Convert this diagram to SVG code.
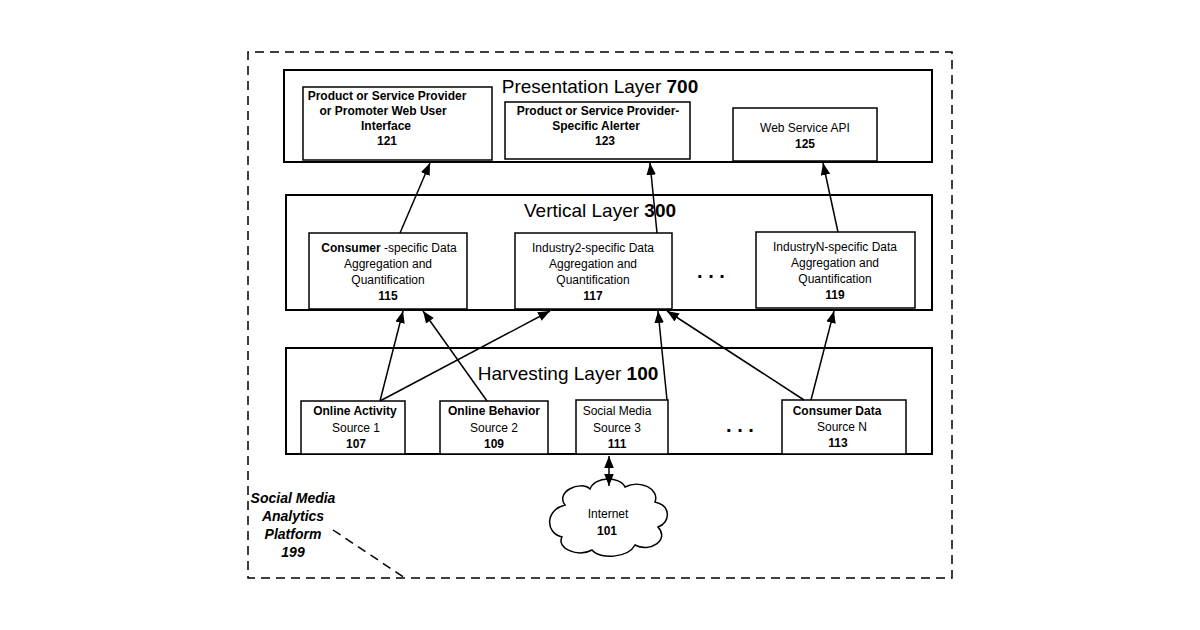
<svg xmlns="http://www.w3.org/2000/svg" width="1200" height="630" viewBox="0 0 1200 630">
<style>
text{font-family:"Liberation Sans",Arial,sans-serif;fill:#000;text-anchor:middle}
.box{fill:#fff;stroke:#000;stroke-width:1.5}
.lay{fill:#fff;stroke:#000;stroke-width:2}
.t{font-size:12px}
.b{font-weight:bold}
.h{font-size:19px}
.c{stroke:#000;stroke-width:1.5;fill:none;marker-end:url(#a)}
.d{stroke:#000;stroke-width:1.5;fill:none;stroke-dasharray:9,6}
</style>
<defs><marker id="a" viewBox="0 0 10 10" refX="10" refY="5" markerWidth="8" markerHeight="8" orient="auto-start-reverse"><path d="M0,1 L10,5 L0,9z" fill="#000"/></marker></defs>
<rect width="1200" height="630" fill="#fff"/>
<g id="platform">
<path class="d" d="M405,578 L248,578 L248,52 L952,52 L952,578 L405,578"/>
<path class="d" d="M333,530 L405,578"/>
<text x="293" y="503" font-size="14" font-weight="bold" font-style="italic">Social Media</text>
<text x="293" y="521" font-size="14" font-weight="bold" font-style="italic">Analytics</text>
<text x="293" y="539" font-size="14" font-weight="bold" font-style="italic">Platform</text>
<text x="293" y="557" font-size="14" font-weight="bold" font-style="italic">199</text>
</g>
<g id="presentation"><rect class="lay" x="284" y="70" width="648" height="92"/><text class="h" x="600" y="93">Presentation Layer <tspan class="b">700</tspan></text></g>
<g id="vertical"><rect class="lay" x="286" y="195" width="646" height="115"/><text class="h" x="600" y="217">Vertical Layer <tspan class="b">300</tspan></text></g>
<g id="harvesting"><rect class="lay" x="286" y="348" width="646" height="106"/><text class="h" x="568" y="380">Harvesting Layer <tspan class="b">100</tspan></text></g>
<g id="n121"><rect class="box" x="303" y="87" width="189" height="73"/><text class="t b" x="387" y="100">Product or Service Provider</text><text class="t b" x="383" y="115">or Promoter  Web User</text><text class="t b" x="386" y="130">Interface</text><text class="t b" x="387" y="145">121</text></g>
<g id="n123"><rect class="box" x="505" y="102" width="185" height="57"/><text class="t b" x="598" y="115">Product or Service Provider-</text><text class="t b" x="596" y="130">Specific  Alerter</text><text class="t b" x="605" y="145">123</text></g>
<g id="n125"><rect class="box" x="733" y="108" width="144" height="53"/><text class="t" x="805" y="132">Web Service API</text><text class="t b" x="805" y="148">125</text></g>
<g id="n115"><rect class="box" x="309" y="233" width="158" height="76"/><text class="t" x="389" y="252"><tspan class="b">Consumer</tspan>  -specific Data</text><text class="t" x="388" y="268">Aggregation and</text><text class="t" x="388" y="284">Quantification</text><text class="t b" x="388" y="300">115</text></g>
<g id="n117"><rect class="box" x="515" y="233" width="157" height="76"/><text class="t" x="593" y="252">Industry2-specific Data</text><text class="t" x="593" y="268">Aggregation and</text><text class="t" x="593" y="284">Quantification</text><text class="t b" x="593" y="300">117</text></g>
<text x="711" y="278" font-size="20" font-weight="bold">. . .</text>
<g id="n119"><rect class="box" x="756" y="232" width="159" height="76"/><text class="t" x="835" y="251">IndustryN-specific Data</text><text class="t" x="835" y="267">Aggregation and</text><text class="t" x="835" y="283">Quantification</text><text class="t b" x="835" y="299">119</text></g>
<g id="n107"><rect class="box" x="301" y="401" width="104" height="53"/><text class="t b" x="355" y="415">Online  Activity</text><text class="t" x="356" y="432">Source 1</text><text class="t b" x="356" y="448">107</text></g>
<g id="n109"><rect class="box" x="440" y="401" width="108" height="53"/><text class="t b" x="494" y="415">Online Behavior</text><text class="t" x="494" y="432">Source 2</text><text class="t b" x="494" y="448">109</text></g>
<g id="n111"><rect class="box" x="576" y="400" width="92" height="54"/><text class="t" x="617" y="415">Social Media</text><text class="t" x="617" y="432">Source 3</text><text class="t b" x="617" y="448">111</text></g>
<text x="740" y="432" font-size="20" font-weight="bold">. . .</text>
<g id="n113"><rect class="box" x="782" y="400" width="124" height="54"/><text class="t b" x="837" y="415">Consumer Data</text><text class="t" x="842" y="431">Source N</text><text class="t b" x="838" y="447">113</text></g>
<g id="n101"><path d="M565,505 C555,492 580,480 590,489 C595,476 620,476 625,487 C640,479 660,489 655,502 C672,506 670,523 658,527 C670,540 650,553 635,545 C628,558 600,560 592,550 C578,558 556,548 562,537 C545,533 545,510 565,505Z" fill="#fff" stroke="#000" stroke-width="1.5"/><text class="t" x="608" y="518">Internet</text><text class="t b" x="607" y="535">101</text></g>
<g id="connectors">
<line class="c" x1="400" y1="233" x2="430" y2="163"/>
<line class="c" x1="657" y1="233" x2="650" y2="163"/>
<line class="c" x1="838" y1="232" x2="823" y2="163"/>
<line class="c" x1="380" y1="401" x2="403" y2="311"/>
<line class="c" x1="380" y1="401" x2="550" y2="311"/>
<line class="c" x1="487" y1="401" x2="423" y2="311"/>
<line class="c" x1="667" y1="400" x2="658" y2="311"/>
<line class="c" x1="804" y1="400" x2="667" y2="311"/>
<line class="c" x1="811" y1="400" x2="834" y2="311"/>
<line class="c" x1="609" y1="456" x2="609" y2="486" marker-start="url(#a)"/>
</g>
</svg>
